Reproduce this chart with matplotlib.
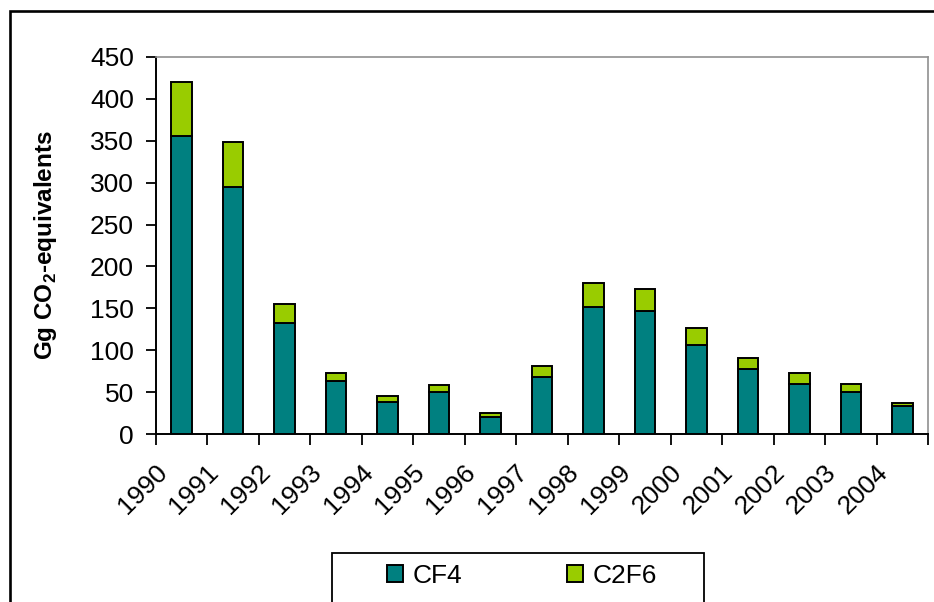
#!/usr/bin/env python3
"""PFC emissions (CF4 + C2F6) 1990-2004 as stacked bars -> out.png."""

import matplotlib

matplotlib.use("Agg")
import matplotlib.pyplot as plt
import matplotlib.transforms as mtransforms
from matplotlib.patches import Rectangle
import numpy as np

YEARS = ["1990", "1991", "1992", "1993", "1994", "1995", "1996", "1997",
         "1998", "1999", "2000", "2001", "2002", "2003", "2004"]
CF4 = [356, 295, 132, 63, 38, 50, 20, 68, 152, 147, 106, 78, 60, 50, 33]
C2F6 = [64, 53, 23, 10, 7, 8, 5, 13, 28, 26, 21, 13, 13, 10, 4]

TEAL = "#008080"
LIME = "#99CC00"

W, H = 934, 602

plt.rcParams["font.family"] = ["Liberation Sans", "DejaVu Sans"]
plt.rcParams["mathtext.fontset"] = "custom"
plt.rcParams["mathtext.rm"] = "Liberation Sans"
plt.rcParams["mathtext.bf"] = "Liberation Sans:bold"


def px(x0, y0, x1, y1):
    # pixel box (top-left origin) -> figure fraction rect
    return [x0 / W, 1 - y1 / H, (x1 - x0) / W, (y1 - y0) / H]


def main():
    fig = plt.figure(figsize=(W / 100, H / 100), dpi=100)

    # outer chart frame (runs off the right/bottom edge of the picture)
    fig.patches.append(Rectangle((9.5 / W, -0.1), 1.1, 1 - 10.7 / H + 0.1,
                                 transform=fig.transFigure, fill=False,
                                 edgecolor="black", linewidth=1.9))

    ax = fig.add_axes(px(156, 57, 928, 434))
    x = np.arange(len(YEARS))
    ax.bar(x, CF4, width=0.4, color=TEAL, edgecolor="black",
           linewidth=1.4, label="CF4", zorder=3)
    ax.bar(x, C2F6, width=0.4, bottom=CF4, color=LIME, edgecolor="black",
           linewidth=1.4, label="C2F6", zorder=3)

    ax.set_xlim(-0.5, len(YEARS) - 0.5)
    ax.set_ylim(0, 450)
    ax.set_yticks(np.arange(0, 451, 50))
    ax.tick_params(axis="y", direction="out", length=7, width=1.3,
                   pad=9, labelsize=19)

    ax.set_xticks(x)
    ax.set_xticklabels(YEARS, rotation=45, ha="right", va="top")
    ax.set_xticks(np.arange(-0.5, len(YEARS)), minor=True)
    ax.tick_params(axis="x", which="major", length=0, pad=19, labelsize=19)
    ax.tick_params(axis="x", which="minor", direction="out", length=8,
                   width=1.3)
    shift = mtransforms.ScaledTranslation(-10 / 100, 0, fig.dpi_scale_trans)
    for lab in ax.get_xticklabels():
        lab.set_transform(lab.get_transform() + shift)

    for side in ("left", "bottom"):
        ax.spines[side].set_linewidth(1.4)
        ax.spines[side].set_color("black")
    for side in ("top", "right"):
        ax.spines[side].set_linewidth(1.2)
        ax.spines[side].set_color("#909090")

    ax.set_ylabel(r"Gg CO$_\mathbf{2}$-equivalents", fontsize=17.5,
                  fontweight="bold")
    ax.yaxis.set_label_coords((59 - 156) / 772, 0.5)

    # legend box, also cut off by the bottom edge
    fig.patches.append(Rectangle((332 / W, -0.05), (704 - 332) / W,
                                 (602 - 553) / H + 0.05,
                                 transform=fig.transFigure, fill=False,
                                 edgecolor="black", linewidth=1.3))
    ax.legend(loc="center", bbox_to_anchor=(522 / W, 1 - 576 / H),
              bbox_transform=fig.transFigure, ncol=2, frameon=False,
              fontsize=19, handlelength=0.6, handleheight=0.6,
              handletextpad=0.35, columnspacing=4.0)

    fig.savefig("out.png", dpi=100)


if __name__ == "__main__":
    main()
